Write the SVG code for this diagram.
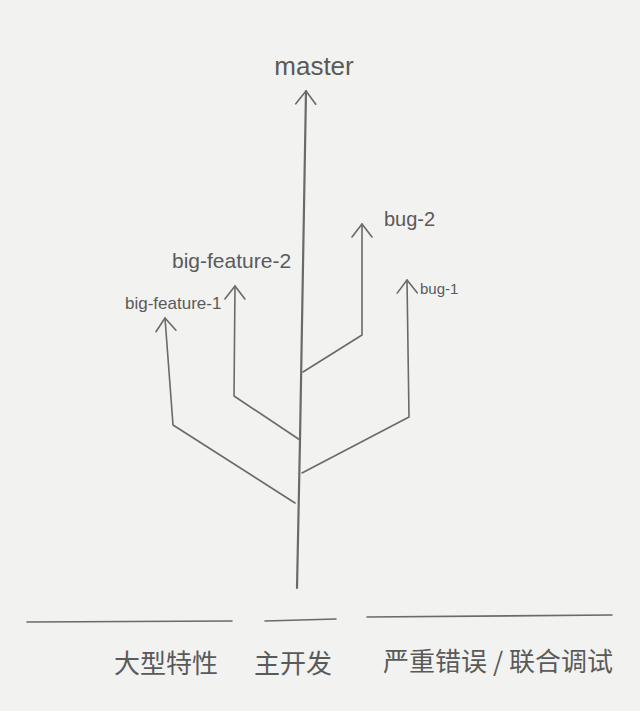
<svg xmlns="http://www.w3.org/2000/svg" width="640" height="711" viewBox="0 0 640 711">
<style>
.ln{fill:none;stroke:#6a6a6a;stroke-width:1.6;stroke-linecap:round;stroke-linejoin:round}
.tr{fill:none;stroke:#6a6a6a;stroke-width:2.2;stroke-linecap:round}
.lb{font-family:"Liberation Sans","Noto Sans CJK SC",sans-serif;fill:#5a5a5a}
.cn{font-family:"Noto Sans CJK SC",sans-serif;fill:#5a5a5a;font-size:26px}
</style>
<defs>
<marker id="ah" viewBox="0 0 20 24" refX="18" refY="12" markerWidth="20" markerHeight="24" markerUnits="userSpaceOnUse" orient="auto">
<path d="M5,2 L18,12 L5,22" fill="none" stroke="#6a6a6a" stroke-width="1.6" stroke-linecap="round" stroke-linejoin="round"/>
</marker>
</defs>
<rect width="640" height="711" fill="#f2f2f0"/>
<g id="connectors">
<path id="trunk" class="tr" d="M297,588 L300,440 L306,91" marker-end="url(#ah)"/>
<path id="e-bug2" class="ln" d="M303,372 L362,335 L362,224" marker-end="url(#ah)"/>
<path id="e-bug1" class="ln" d="M302,473 L409,417 L407,280" marker-end="url(#ah)"/>
<path id="e-bf2" class="ln" d="M300,440 L234,396 L235,286" marker-end="url(#ah)"/>
<path id="e-bf1" class="ln" d="M295,503 L173,425 L165,318" marker-end="url(#ah)"/>
</g>
<g id="master"><text class="lb" x="314" y="75" font-size="26" text-anchor="middle">master</text></g>
<g id="bug-2"><text class="lb" x="384" y="226" font-size="20">bug-2</text></g>
<g id="bug-1"><text class="lb" x="420" y="294" font-size="15">bug-1</text></g>
<g id="big-feature-2"><text class="lb" x="172" y="268" font-size="21">big-feature-2</text></g>
<g id="big-feature-1"><text class="lb" x="125" y="309" font-size="17">big-feature-1</text></g>
<g id="lanes">
<path class="ln" d="M27,622 L232,621"/>
<path class="ln" d="M265,621 L336,619"/>
<path class="ln" d="M367,617 L612,615"/>
<text class="cn" x="166" y="673" text-anchor="middle">大型特性</text>
<text class="cn" x="293" y="673" text-anchor="middle">主开发</text>
<text class="cn" x="498" y="671" text-anchor="middle">严重错误 / 联合调试</text>
</g>
</svg>
